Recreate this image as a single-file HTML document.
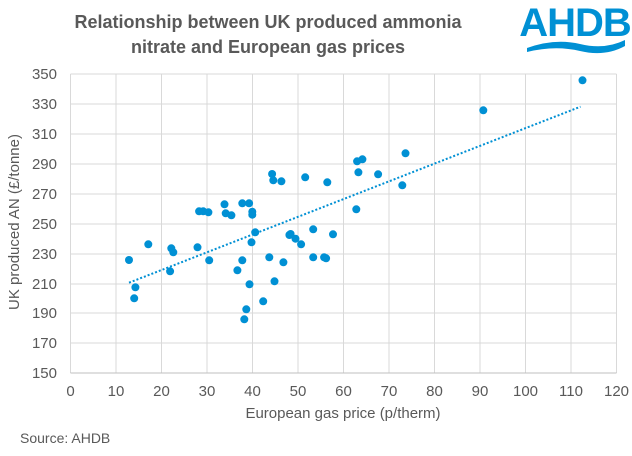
<!DOCTYPE html>
<html><head><style>
body{margin:0;background:#fff;font-family:"Liberation Sans",Arial,sans-serif;}
</style></head><body>
<svg width="632" height="451" viewBox="0 0 632 451" xmlns="http://www.w3.org/2000/svg" font-family="Liberation Sans, Arial, sans-serif">
<rect width="632" height="451" fill="#fff"/>
<text x="268" y="28" text-anchor="middle" font-size="18" font-weight="bold" fill="#595959">Relationship between UK produced ammonia</text>
<text x="268" y="53" text-anchor="middle" font-size="18" font-weight="bold" fill="#595959">nitrate and European gas prices</text>
<text x="575" y="36" text-anchor="middle" font-size="40" font-weight="bold" fill="#0090d4" letter-spacing="-1">AHDB</text>
<path d="M527 48 Q555 38 580 44 Q605 50 625 40 L625 46 Q605 57 580 51 Q555 45 527 52 Z" fill="#0090d4"/>
<g stroke="#d9d9d9" stroke-width="1">
<line x1="70.5" y1="74" x2="616.5" y2="74"/><line x1="70.5" y1="104" x2="616.5" y2="104"/><line x1="70.5" y1="134" x2="616.5" y2="134"/><line x1="70.5" y1="164" x2="616.5" y2="164"/><line x1="70.5" y1="194" x2="616.5" y2="194"/><line x1="70.5" y1="224" x2="616.5" y2="224"/><line x1="70.5" y1="254" x2="616.5" y2="254"/><line x1="70.5" y1="284" x2="616.5" y2="284"/><line x1="70.5" y1="313" x2="616.5" y2="313"/><line x1="70.5" y1="343" x2="616.5" y2="343"/>
<line x1="116" y1="74" x2="116" y2="373"/><line x1="161.5" y1="74" x2="161.5" y2="373"/><line x1="207" y1="74" x2="207" y2="373"/><line x1="252.5" y1="74" x2="252.5" y2="373"/><line x1="298" y1="74" x2="298" y2="373"/><line x1="343.5" y1="74" x2="343.5" y2="373"/><line x1="389" y1="74" x2="389" y2="373"/><line x1="434.5" y1="74" x2="434.5" y2="373"/><line x1="480" y1="74" x2="480" y2="373"/><line x1="525.5" y1="74" x2="525.5" y2="373"/><line x1="571" y1="74" x2="571" y2="373"/><line x1="616.5" y1="74" x2="616.5" y2="373"/>
<line x1="70.5" y1="74" x2="70.5" y2="373"/>
</g>
<line x1="70.5" y1="373" x2="616.5" y2="373" stroke="#bfbfbf"/>
<g font-size="15" fill="#595959" text-anchor="end">
<text x="57" y="79">350</text><text x="57" y="109">330</text><text x="57" y="139">310</text><text x="57" y="169">290</text><text x="57" y="199">270</text><text x="57" y="229">250</text><text x="57" y="259">230</text><text x="57" y="289">210</text><text x="57" y="318">190</text><text x="57" y="348">170</text><text x="57" y="378">150</text>
</g>
<g font-size="15" fill="#595959" text-anchor="middle">
<text x="70.5" y="396">0</text><text x="116" y="396">10</text><text x="161.5" y="396">20</text><text x="207" y="396">30</text><text x="252.5" y="396">40</text><text x="298" y="396">50</text><text x="343.5" y="396">60</text><text x="389" y="396">70</text><text x="434.5" y="396">80</text><text x="480" y="396">90</text><text x="525.5" y="396">100</text><text x="571" y="396">110</text><text x="616.5" y="396">120</text>
<text x="343" y="418">European gas price (p/therm)</text>
<text transform="translate(19,222) rotate(-90)">UK produced AN (£/tonne)</text>
</g>
<text x="20" y="443" font-size="14" fill="#595959">Source: AHDB</text>
<line x1="129" y1="282.7" x2="580.5" y2="106.7" stroke="#0090d4" stroke-width="2" stroke-dasharray="2,2"/>
<g fill="#0090d4">
<circle cx="129" cy="260" r="4"/><circle cx="135.4" cy="287.3" r="4"/><circle cx="134.2" cy="298.3" r="4"/><circle cx="148.3" cy="244.3" r="4"/><circle cx="170.1" cy="271.3" r="4"/><circle cx="171.3" cy="248.3" r="4"/><circle cx="173.3" cy="252.3" r="4"/><circle cx="197.5" cy="247.3" r="4"/><circle cx="199.1" cy="211.3" r="4"/><circle cx="203.2" cy="211.3" r="4"/><circle cx="208.4" cy="212.3" r="4"/><circle cx="209.2" cy="260.3" r="4"/><circle cx="224.5" cy="204.3" r="4"/><circle cx="225.7" cy="213.3" r="4"/><circle cx="231.4" cy="215.3" r="4"/><circle cx="237.4" cy="270.3" r="4"/><circle cx="242.3" cy="203.3" r="4"/><circle cx="242.3" cy="260.3" r="4"/><circle cx="246.3" cy="309.3" r="4"/><circle cx="244.3" cy="319.3" r="4"/><circle cx="249.1" cy="203.3" r="4"/><circle cx="249.5" cy="284.3" r="4"/><circle cx="252.3" cy="211.7" r="4"/><circle cx="252.3" cy="214.7" r="4"/><circle cx="251.5" cy="242.3" r="4"/><circle cx="255.2" cy="232.3" r="4"/><circle cx="263.2" cy="301.3" r="4"/><circle cx="269.3" cy="257.3" r="4"/><circle cx="272.1" cy="174" r="4"/><circle cx="273.3" cy="180.3" r="4"/><circle cx="274.5" cy="281.3" r="4"/><circle cx="281.4" cy="181.3" r="4"/><circle cx="283.4" cy="262.3" r="4"/><circle cx="289.4" cy="235" r="4"/><circle cx="290.6" cy="234" r="4"/><circle cx="295.5" cy="238.7" r="4"/><circle cx="301.1" cy="244.3" r="4"/><circle cx="305.2" cy="177.3" r="4"/><circle cx="313.2" cy="229.3" r="4"/><circle cx="313.2" cy="257.3" r="4"/><circle cx="324.1" cy="257.3" r="4"/><circle cx="326.1" cy="258.3" r="4"/><circle cx="327.3" cy="182.3" r="4"/><circle cx="333" cy="234.3" r="4"/><circle cx="356.3" cy="209.3" r="4"/><circle cx="357.1" cy="161.3" r="4"/><circle cx="358.4" cy="172.3" r="4"/><circle cx="362.4" cy="159.3" r="4"/><circle cx="378.1" cy="174.3" r="4"/><circle cx="402.3" cy="185.3" r="4"/><circle cx="405.5" cy="153.3" r="4"/><circle cx="483.3" cy="110.3" r="4"/><circle cx="582.5" cy="80.3" r="4"/>
</g>
</svg>
</body></html>
